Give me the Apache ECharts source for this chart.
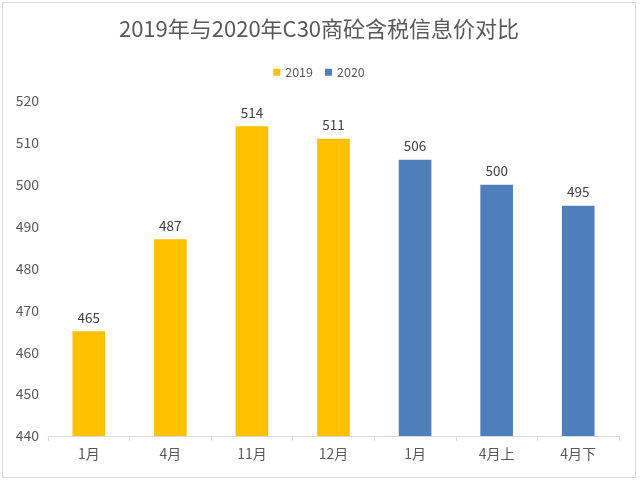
<!DOCTYPE html>
<html>
<head>
<meta charset="utf-8">
<script src="https://cdn.jsdelivr.net/npm/echarts@6/dist/echarts.min.js"></script>
<style>
html,body{margin:0;padding:0;background:#fff;}
#c{position:absolute;left:2px;top:2px;width:634px;height:476px;border:1px solid #d9d9d9;box-sizing:border-box;}
</style>
</head>
<body>
<div id="c"></div>
<script>
var titleText = '2019年与2020年C30商砼含税信息价对比';
var categories = ['1月', '4月', '11月', '12月', '1月', '4月上', '4月下'];
var values2019 = [465, 487, 514, 511, null, null, null];
var values2020 = [null, null, null, null, 506, 500, 495];
var yMin = 440, yMax = 520, yStep = 10;

var chart = echarts.init(document.getElementById('c'));
var font = '"Microsoft YaHei","Noto Sans CJK SC",sans-serif';
var labelStyle = {show: true, position: 'top', color: '#404040', fontSize: 13.5, fontFamily: font, distance: 7};
chart.setOption({
  animation: false,
  title: {text: titleText, left: 'center', top: 10,
    textStyle: {fontSize: 22, fontWeight: 'normal', color: '#595959', fontFamily: font}},
  legend: {top: 58, left: 'center', itemWidth: 7, itemHeight: 7, itemGap: 12,
    textStyle: {fontSize: 12.5, color: '#595959', fontFamily: font},
    data: [{name: '2019', icon: 'rect'}, {name: '2020', icon: 'rect'}]},
  grid: {left: 45, right: 16, top: 98, bottom: 41},
  xAxis: {type: 'category', data: categories,
    axisLine: {lineStyle: {color: '#d9d9d9'}},
    axisTick: {show: true, alignWithLabel: false, lineStyle: {color: '#d9d9d9'}},
    axisLabel: {color: '#595959', fontSize: 14, fontFamily: font, margin: 11}},
  yAxis: {type: 'value', min: yMin, max: yMax, interval: yStep,
    axisLine: {show: false}, axisTick: {show: false},
    splitLine: {show: false},
    axisLabel: {color: '#595959', fontSize: 14, fontFamily: font, margin: 9, align: 'right'}},
  series: [
    {name: '2019', type: 'bar', data: values2019, barWidth: '40%', barGap: '-100%',
      itemStyle: {color: '#FFC000'}, label: labelStyle},
    {name: '2020', type: 'bar', data: values2020, barWidth: '40%', barGap: '-100%',
      itemStyle: {color: '#4F7EBC'}, label: labelStyle}
  ]
});
</script>
</body>
</html>
